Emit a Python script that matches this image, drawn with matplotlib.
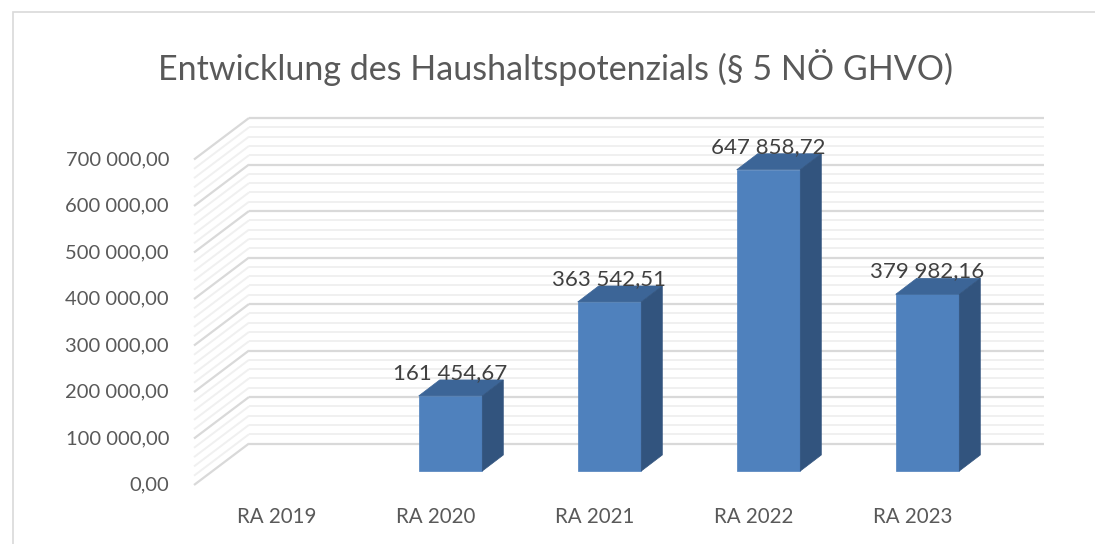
import numpy as np
import matplotlib
matplotlib.use('Agg')
import matplotlib.pyplot as plt
from matplotlib.patches import Polygon, Rectangle
from matplotlib.transforms import offset_copy

plt.rcParams['font.family'] = ['Lato', 'DejaVu Sans']

# data
categories = ['RA 2019', 'RA 2020', 'RA 2021', 'RA 2022', 'RA 2023']
values = [np.nan, 161454.67, 363542.51, 647858.72, 379982.16]
labels = ['', '161 454,67', '363 542,51', '647 858,72', '379 982,16']
yticks = [0, 100000, 200000, 300000, 400000, 500000, 600000, 700000]
ytick_labels = ['0,00', '100 000,00', '200 000,00', '300 000,00', '400 000,00',
                '500 000,00', '600 000,00', '700 000,00']
title = 'Entwicklung des Haushaltspotenzials (§ 5 NÖ GHVO)'

W, H = 1095, 544
fig = plt.figure(figsize=(W / 100, H / 100), dpi=100)
ax = fig.add_axes([0, 0, 1, 1])

# scale of the bar plane: category spacing 159 px, 46.5 px per 100 000
px_cat, px_val = 159.0, 46.5 / 100000
x0_px, y0_px = 291.5, 471.0
ax.set_xlim(-x0_px / px_cat, (W - x0_px) / px_cat)
ax.set_ylim((y0_px - H) / px_val, y0_px / px_val)
ax.axis('off')

# 3d offsets in dots (x right, y up)
back = offset_copy(ax.transData, fig, x=37, y=27.5, units='dots')
front = offset_copy(ax.transData, fig, x=-18, y=-14, units='dots')
bdx, bdy = 21, 16  # bar depth

grid_major = '#d9d9d9'
grid_minor = '#f0f0f0'
x_left, x_right = -0.5, 4.5

for v in np.arange(0, 700001, 20000):
    major = v % 100000 == 0
    c = grid_major if major else grid_minor
    lw = 1.6 if major else 1.4
    z = 2 if major else 1
    ax.plot([x_left, x_right], [v, v], color=c, lw=lw, transform=back, zorder=z,
            solid_capstyle='butt')
    # left wall diagonal: front point -> back point
    p_front = front.transform((x_left, v))
    p_back = back.transform((x_left, v))
    ax.plot([p_front[0], p_back[0]], [p_front[1], p_back[1]], color=c, lw=lw,
            transform=None, zorder=z, solid_capstyle='butt')

# bars
front_col = '#4f81bd'
top_col = '#3c6597'
side_col = '#32547e'
w = 0.4
for i, v in enumerate(values):
    if np.isnan(v):
        continue
    xl, xr = i - w / 2, i + w / 2
    d = ax.transData
    a = d.transform([(xl, 0), (xr, 0), (xr, v), (xl, v)])
    ax.add_patch(Polygon(a, closed=True, facecolor=front_col, edgecolor=front_col,
                         lw=0.5, transform=None, zorder=5))
    top = [a[3], a[2], a[2] + [bdx, bdy], a[3] + [bdx, bdy]]
    ax.add_patch(Polygon(top, closed=True, facecolor=top_col, edgecolor=top_col,
                         lw=0.5, transform=None, zorder=5))
    side = [a[1], a[1] + [bdx, bdy], a[2] + [bdx, bdy], a[2]]
    ax.add_patch(Polygon(side, closed=True, facecolor=side_col, edgecolor=side_col,
                         lw=0.5, transform=None, zorder=5))
    lab_t = offset_copy(ax.transData, fig, x=bdx / 2 - 11, y=bdy - 3, units='dots')
    ax.text(i, v, labels[i], transform=lab_t, ha='center', va='bottom',
            fontsize=16, color='#404040', zorder=6)

txt = '#595959'
ytick_t = offset_copy(ax.transData, fig, x=-18 - 25, y=-14, units='dots')
for v, s in zip(yticks, ytick_labels):
    ax.text(x_left, v, s, transform=ytick_t, ha='right', va='center',
            fontsize=14.5, color=txt)

xtick_t = offset_copy(ax.transData, fig, x=-15, y=-14 - 32, units='dots')
for i, s in enumerate(categories):
    ax.text(i, 0, s, transform=xtick_t, ha='center', va='center',
            fontsize=14.8, color=txt)

fig.text(555 / W, 1 - 68 / H, title, ha='center', va='center', fontsize=24.5,
         color=txt)

# chart border
fig.add_artist(Rectangle((12.5 / W, -0.1), 1.2, 1.1 - 12.5 / H, transform=fig.transFigure,
                         fill=False, edgecolor='#d9d9d9', lw=1.2))

fig.savefig('out.png', dpi=100, facecolor='white')
